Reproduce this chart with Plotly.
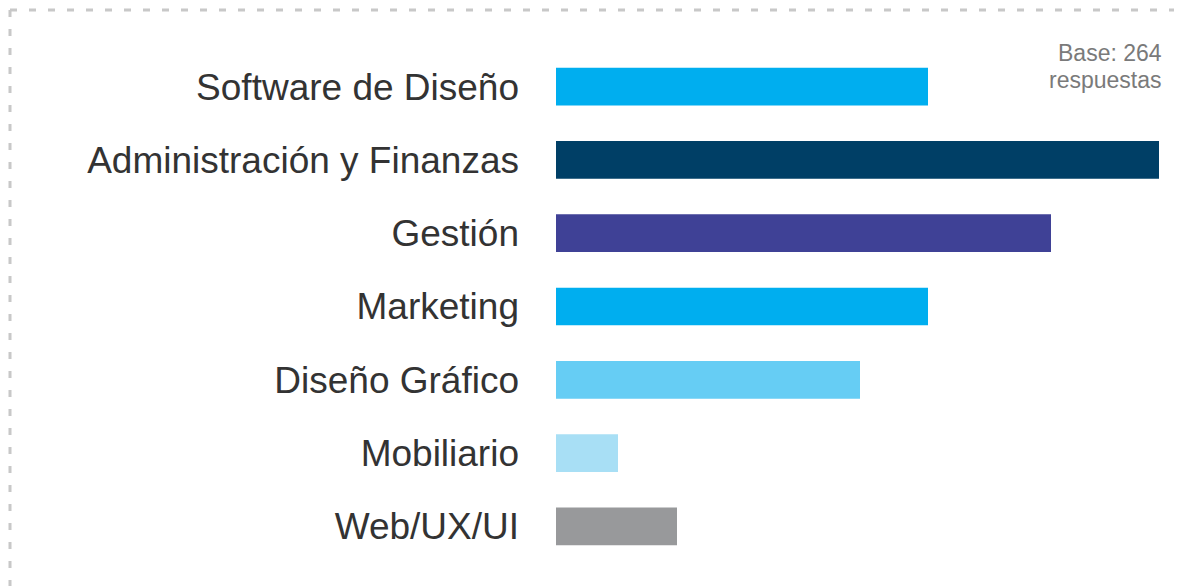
import plotly.graph_objects as go

categories = ["Software de Diseño", "Administración y Finanzas", "Gestión", "Marketing",
              "Diseño Gráfico", "Mobiliario", "Web/UX/UI"]
values = [37.2, 60.3, 49.5, 37.2, 30.4, 6.2, 12.1]
colors = ["#00AEEF", "#003F66", "#3F4196", "#00AEEF", "#66CDF4", "#A8DFF5", "#98999B"]
note_lines = ["Base: 264", "respuestas"]

OFF = 8  # page body margin
W, H = 1182 - OFF, 586 - OFF
ML, MR, MT, MB = 556 - OFF, 20, 50 - OFF, 23
pw = W - ML - MR
ph = H - MT - MB

fig = go.Figure(go.Bar(
    x=values, y=categories, orientation="h",
    marker=dict(color=colors, line=dict(width=0)),
    hoverinfo="x+y",
))

def px_x(px):
    return (px - OFF - ML) / pw

def px_y(py):
    return (H - MB - (py - OFF)) / ph

border = dict(color="#C8C8C8", width=3, dash="7px,12px")
fig.add_shape(type="line", xref="paper", yref="paper",
              x0=px_x(10), x1=px_x(1250), y0=px_y(10), y1=px_y(10), line=border)
fig.add_shape(type="line", xref="paper", yref="paper",
              x0=px_x(10), x1=px_x(10), y0=px_y(10), y1=px_y(650), line=border)

for line_text, yc in zip(note_lines, [53, 80]):
    fig.add_annotation(text=line_text, xref="paper", yref="paper",
                       x=px_x(1163), y=px_y(yc), xanchor="right", yanchor="middle",
                       align="right", showarrow=False, borderpad=0,
                       font=dict(family="Liberation Sans, Arial, sans-serif", size=23, color="#7A7A7A"))

fig.update_layout(
    width=W, height=H,
    margin=dict(l=ML, r=MR, t=MT, b=MB),
    paper_bgcolor="white", plot_bgcolor="white",
    bargap=0.485,
    showlegend=False,
    xaxis=dict(range=[0, pw / 10], visible=False, fixedrange=True),
    yaxis=dict(autorange="reversed", showgrid=False, zeroline=False, showline=False,
               ticks="", ticklabelstandoff=36,
               tickfont=dict(family="Liberation Sans, Arial, sans-serif", size=37, color="#333333")),
)

fig.write_html("out.html")
